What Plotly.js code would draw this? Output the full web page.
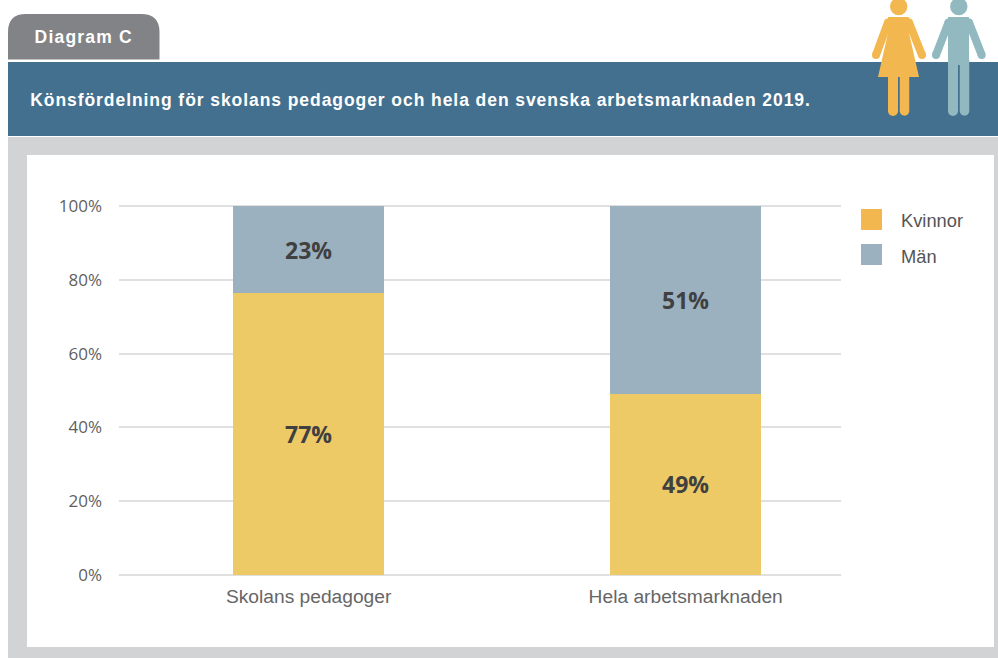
<!DOCTYPE html>
<html><head><meta charset="utf-8">
<script src="https://cdn.plot.ly/plotly-3.0.1.min.js"></script>
<style>html,body{margin:0;padding:0;background:#fff}#c{width:998px;height:658px}
.annotation[data-index="0"] text{letter-spacing:1.2px}
.annotation[data-index="1"] text{letter-spacing:.93px}
</style></head>
<body><div id="c"></div>
<script>
const categories = ["Skolans pedagoger", "Hela arbetsmarknaden"];
const seriesNames = ["Kvinnor", "Män"];
const womenValues = [76.5, 49];
const menValues = [23.5, 51];
const womenLabels = ["77%", "49%"];
const menLabels = ["23%", "51%"];
const yTicks = [0, 20, 40, 60, 80, 100];
const yTickLabels = ["0%", "20%", "40%", "60%", "80%", "100%"];

const W = 998, H = 658;
const m = {l:119, r:157, t:205, b:82};
const pw = W-m.l-m.r, ph = H-m.t-m.b;
const X = p => (p-m.l)/pw;
const Y = p => 1-(p-m.t)/ph;
const rect = (x0,y0,x1,y1,color) => ({type:'rect',xref:'paper',yref:'paper',x0:X(x0),x1:X(x1),y0:Y(y0),y1:Y(y1),fillcolor:color,line:{width:0},layer:'below'});
const pathOf = (d,color) => ({type:'path',xref:'paper',yref:'paper',layer:'below',fillcolor:color,line:{width:0},
  path:d.map(s=> typeof s==='string'? s : X(s[0]).toFixed(5)+','+Y(s[1]).toFixed(5)).join(' ').replace(/([MLQZ]) /g,'$1')});
const circle = (cx,cy,r,color) => ({type:'circle',xref:'paper',yref:'paper',layer:'below',x0:X(cx-r),x1:X(cx+r),y0:Y(cy+r),y1:Y(cy-r),fillcolor:color,line:{width:0}});
const limb = (x0,y0,x1,y1,w,color) => {
  const dx=x1-x0, dy=y1-y0, L=Math.hypot(dx,dy), nx=-dy/L*w/2, ny=dx/L*w/2;
  return [pathOf(['M',[x0+nx,y0+ny],'L',[x1+nx,y1+ny],'L',[x1-nx,y1-ny],'L',[x0-nx,y0-ny],'Z'],color), circle(x1,y1,w/2,color), circle(x0,y0,w/2,color)];
};

const ORANGE='#F2B84F', TEAL='#91B9BF';
const shapes = [
  rect(8,137,998,658,'#D1D3D5'),
  rect(27,155,994,647,'#FFFFFF'),
  rect(8,62,998,136,'#43708E'),
  pathOf(['M',[8,59.5],'L',[8,32],'Q',[8,14],[26,14],'L',[141,14],'Q',[159.5,14],[159.5,32],'L',[159.5,59.5],'Z'],'#828386'),
  // woman
  circle(898.7,6.5,8.7,ORANGE),
  pathOf(['M',[888,17],'L',[909,17],'L',[909,33],'L',[919,77],'L',[878,77],'L',[888,33],'Z'],ORANGE),
  ...limb(888,22.5,876,55,8,ORANGE),
  ...limb(909,22.5,922,55,8,ORANGE),
  ...limb(893,70,893,111,10,ORANGE),
  ...limb(904.5,70,904.5,111,9.5,ORANGE),
  // man
  circle(958.8,6.5,8.7,TEAL),
  pathOf(['M',[948,17],'L',[969,17],'L',[969,65],'L',[948,65],'Z'],TEAL),
  ...limb(948.5,22.5,936,55,8,TEAL),
  ...limb(969,22.5,981.7,55,8,TEAL),
  ...limb(953,60,953,111,10,TEAL),
  ...limb(964.5,60,964.5,111,9.5,TEAL),
  // legend swatches
  rect(861,209,882,230,ORANGE),
  rect(861,244,882,265,'#9BB1BF')
];
const ann = (x,y,text,size,color,weight,family) => ({xref:'paper',yref:'paper',x:X(x),y:Y(y),xanchor:'left',yanchor:'middle',showarrow:false,text:weight?'<b>'+text+'</b>':text,font:{size:size,color:color,family:family}});
const HELV='"Liberation Sans", Arial, sans-serif';
const annotations = [
  ann(37.5,37.5,'Diagram C',17.5,'#FFFFFF',true,HELV),
  ann(65,100.5,'Könsfördelning för skolans pedagoger och hela den svenska arbetsmarknaden 2019.',17.5,'#FFFFFF',true,HELV),
  ann(899,220.5,seriesNames[0],18.3,'#555555',false,HELV),
  ann(899,256.5,seriesNames[1],18.3,'#555555',false,HELV)
];
const common = {type:'bar',x:categories,width:0.4,textposition:'inside',insidetextanchor:'middle',
  textangle:0,textfont:{family:'"Open Sans", sans-serif',size:23,color:'#404040',weight:700},hoverinfo:'skip'};
const data = [
  {...common,name:seriesNames[0],y:womenValues,text:womenLabels,marker:{color:'#EDCA66',line:{width:0}}},
  {...common,name:seriesNames[1],y:menValues,text:menLabels,marker:{color:'#9BB1BF',line:{width:0}}}
];
const layout = {
  width:W,height:H,margin:{l:m.l,r:m.r,t:m.t,b:m.b,pad:0},barmode:'stack',showlegend:false,
  paper_bgcolor:'rgba(0,0,0,0)',plot_bgcolor:'rgba(0,0,0,0)',
  xaxis:{type:'category',range:[-0.503,1.412],showgrid:false,zeroline:false,showline:false,ticks:'',
    ticklabelstandoff:7,tickfont:{family:HELV,size:19.2,color:'#666666'},automargin:false,categoryorder:'array',categoryarray:categories},
  yaxis:{range:[-0.35,100.38],tickvals:yTicks,ticktext:yTickLabels,gridcolor:'#E0E0E0',gridwidth:2,zeroline:false,showline:false,ticks:'',
    ticklen:0,ticklabelstandoff:16,tickfont:{family:'"Open Sans", sans-serif',size:17,color:'#5F5F5F'},automargin:false},
  shapes,annotations
};
Plotly.newPlot('c',data,layout,{displayModeBar:false,staticPlot:true});
</script></body></html>
